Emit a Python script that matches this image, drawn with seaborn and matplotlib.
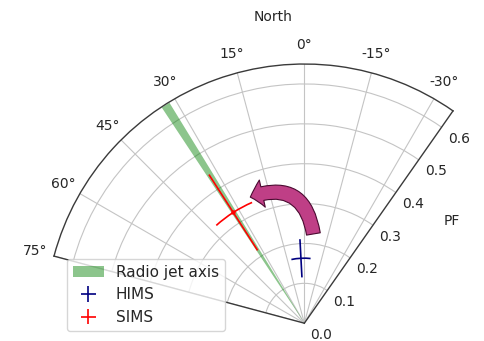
import numpy as np
import matplotlib
matplotlib.use("Agg")
import matplotlib.pyplot as plt
import seaborn as sns

sns.set_style("white")
plt.rcParams["font.family"] = ["DejaVu Sans"]
plt.rcParams["font.size"] = 10

# Radio jet position angle band (deg)
jet_pa = [31.5, 33.5]
# Polarization measurements: angle (deg), angle error (deg), PF, PF error
hims_angle, hims_angle_err = [3.0], [8.5]
hims_pf, hims_pf_err = [0.163], [0.048]
sims_angle, sims_angle_err = [32.7], [9.3]
sims_pf, sims_pf_err = [0.33], [0.113]

r_ticks = [0.0, 0.1, 0.2, 0.3, 0.4, 0.5, 0.6]
theta_ticks = [-30, -15, 0, 15, 30, 45, 60, 75]
theta_labels = ["-30°", "-15°", "0°", "15°", "30°", "45°", "60°", "75°"]
r_max = 0.65

W, H = 485, 341
fig = plt.figure(figsize=(W / 100, H / 100), dpi=100)
# square axes box; the wedge is fitted inside it
side = 399
ax = fig.add_axes([54 / W, (H - 391.5) / H, side / W, side / H], projection="polar")
ax.set_theta_zero_location("N")
ax.set_theta_direction(1)
ax.set_thetamin(-35)
ax.set_thetamax(75)
ax.set_rlim(0, r_max)

ax.grid(True, color="#c4c4c4", lw=0.8)
for sp in ax.spines.values():
    sp.set_edgecolor("#3a3a3a")
    sp.set_linewidth(1.0)

# radio jet axis as a thin wedge
th = np.deg2rad(np.linspace(jet_pa[0], jet_pa[1], 20))
ax.fill_between(th, 0, r_max, color="green", alpha=0.45, lw=0, label="Radio jet axis")

ax.errorbar(np.deg2rad(hims_angle), hims_pf,
            xerr=np.deg2rad(hims_angle_err), yerr=hims_pf_err,
            fmt="none", ecolor="navy", elinewidth=1.2, label="HIMS")
ax.errorbar(np.deg2rad(sims_angle), sims_pf,
            xerr=np.deg2rad(sims_angle_err), yerr=sims_pf_err,
            fmt="none", ecolor="red", elinewidth=1.2, label="SIMS")
sns.scatterplot(x=np.deg2rad(sims_angle), y=sims_pf, ax=ax, color="red",
                s=10, linewidth=0, zorder=5, legend=False)

ax.annotate("", xy=(np.deg2rad(23.2), 0.344), xytext=(np.deg2rad(-5.8), 0.225),
            arrowprops=dict(arrowstyle="simple,head_length=0.45,head_width=1.0,tail_width=0.5",
                            connectionstyle="arc3,rad=0.6", fc="#bf3f86", ec="#4a0a30",
                            lw=0.8, mutation_scale=20, shrinkA=0, shrinkB=0))

ax.set_xticks(np.deg2rad(theta_ticks))
ax.set_xticklabels(theta_labels)
ax.set_yticks(r_ticks)
ax.set_yticklabels([f"{v:.1f}" for v in r_ticks])
ax.tick_params(axis="y", pad=2)

fig.text(273 / W, 1 - 17 / H, "North", ha="center", va="center")
fig.text(452 / W, 1 - 221 / H, "PF", ha="center", va="center")

ax.legend(loc="lower left", bbox_to_anchor=(67 / W, 10 / H),
          bbox_transform=fig.transFigure, borderaxespad=0, fontsize=11)

fig.savefig("out.png", dpi=100)
